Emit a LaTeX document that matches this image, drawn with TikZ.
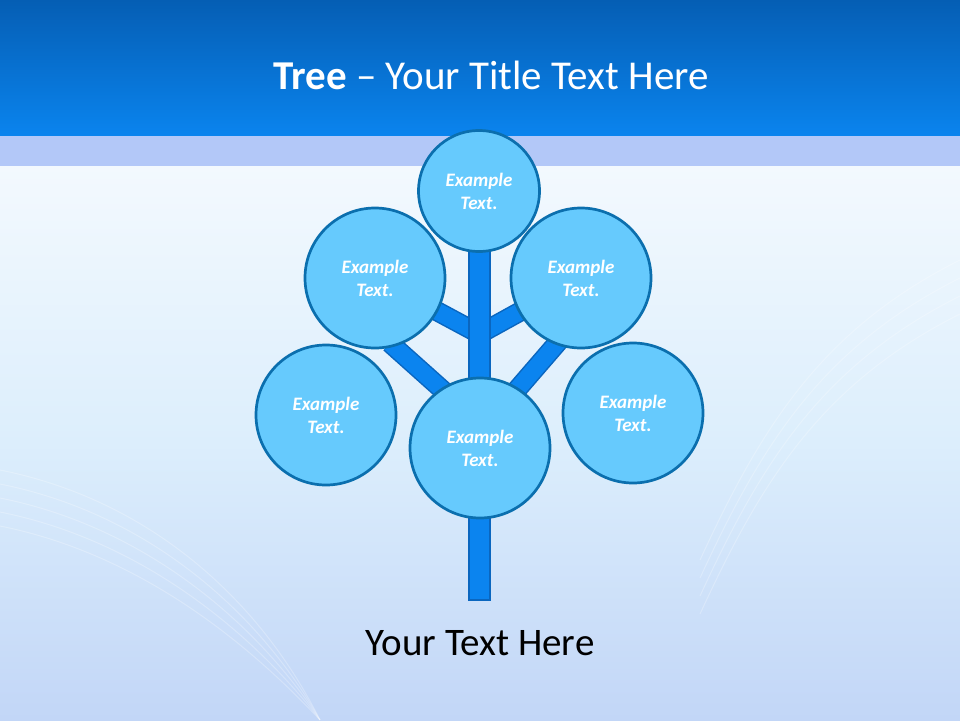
\documentclass[tikz,border=0pt]{standalone}
\usepackage{fontspec}
\setmainfont{Carlito}
\definecolor{hdrtop}{HTML}{055EB4}
\definecolor{hdrbot}{HTML}{0A84EE}
\definecolor{band}{HTML}{B3C8F8}
\definecolor{bgtop}{HTML}{F3F9FE}
\definecolor{bgmid}{HTML}{DCEEFC}
\definecolor{bgbot}{HTML}{C2D6F7}
\definecolor{circfill}{HTML}{66CAFD}
\definecolor{circline}{HTML}{0B6FAE}
\definecolor{trunkfill}{HTML}{0B84EF}
\definecolor{trunkline}{HTML}{0A66BF}
\tikzset{
  leaf/.style={circle, draw=circline, fill=circfill, line width=2.7pt, inner sep=0pt,
    minimum size=140pt, align=center, text=white,
    font=\bfseries\itshape\fontsize{19}{23}\selectfont},
  smallleaf/.style={leaf, minimum size=121pt},
  trunkbox/.style={rectangle, draw=trunkline, fill=trunkfill, line width=1.5pt, inner sep=0pt},
  branchout/.style={line width=20pt, trunkline},
  branchin/.style={line width=17pt, trunkfill},
  streak/.style={white, opacity=0.25, line width=1pt}
}
\begin{document}
\begin{tikzpicture}[x=1pt,y=-1pt]
\useasboundingbox (0,0) rectangle (960,720);
% background
\shade[top color=bgtop, bottom color=bgbot, middle color=bgmid] (0,166) rectangle (960,720);
\foreach \o in {0,14,28,42,56}{
  \draw[streak] (0,{470+\o}) .. controls (150,{500+\o}) and (260,{600+\o}) .. (320,720);
}
\foreach \o in {0,18,36,54}{
  \draw[streak] (960,{260+\o}) .. controls (820,{330+\o}) and (760,{430+\o}) .. (700,{560+\o});
}
\shade[top color=hdrtop, bottom color=hdrbot] (0,0) rectangle (960,136);
\fill[band] (0,136) rectangle (960,166);
% title
\node[text=white, font=\fontsize{41}{46}\selectfont] (title) at (491,75) {\textbf{Tree} – Your Title Text Here};
% tree
\coordinate (j1) at (479.5,334);
\coordinate (j2) at (479.5,423);
\coordinate (j3) at (479.5,433);
\coordinate (bl) at (390,343);
\coordinate (br) at (565,334);
\coordinate (ulc) at (375,278);
\coordinate (urc) at (581,278);
\draw[branchout] (j1) -- (ulc);
\draw[branchout] (j1) -- (urc);
\draw[branchout] (j2) -- (bl);
\draw[branchout] (j3) -- (br);
\draw[branchin] (j1) -- (ulc);
\draw[branchin] (j1) -- (urc);
\draw[branchin] (j2) -- (bl);
\draw[branchin] (j3) -- (br);
\node[trunkbox, minimum width=21pt, minimum height=350pt] (trunk) at (479.5,425) {};
\node[smallleaf] (top) at (479,191) {Example\\Text.};
\node[leaf] (ul) at (ulc) {Example\\Text.};
\node[leaf] (ur) at (urc) {Example\\Text.};
\node[leaf] (ll) at (326,415) {Example\\Text.};
\node[leaf] (lr) at (633,413) {Example\\Text.};
\node[leaf] (mid) at (480,448) {Example\\Text.};
\node[font=\fontsize{39}{44}\selectfont, text=black] (caption) at (480,643) {Your Text Here};
\end{tikzpicture}
\end{document}
